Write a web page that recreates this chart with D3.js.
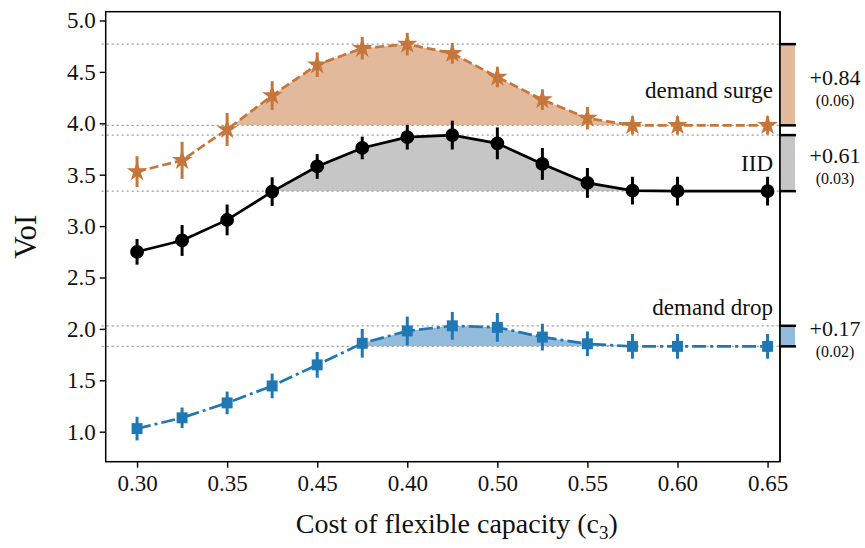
<!DOCTYPE html>
<html>
<head>
<meta charset="utf-8">
<script src="https://cdn.jsdelivr.net/npm/d3@7"></script>
<style>
  body { margin: 0; background: #fff; }
  svg text { font-family: "Liberation Serif", "DejaVu Serif", serif; fill: #111; }
</style>
</head>
<body>
<div id="chart"></div>
<script>
// cost of flexible capacity (x)
const costs = [0.300, 0.325, 0.350, 0.375, 0.400, 0.425, 0.450, 0.475, 0.500, 0.525, 0.550, 0.575, 0.600, 0.650];
const tickValues = [0.30, 0.35, 0.40, 0.45, 0.50, 0.55, 0.60, 0.65];
const tickLabels = ["0.30", "0.35", "0.45", "0.40", "0.50", "0.55", "0.60", "0.65"];

// VoI per scenario, with error bar half-widths
const surge = [3.53, 3.64, 3.94, 4.27, 4.57, 4.73, 4.77, 4.68, 4.45, 4.23, 4.05, 3.98, 3.98, 3.98];
const surgeErr = [0.15, 0.18, 0.16, 0.14, 0.12, 0.11, 0.11, 0.10, 0.10, 0.10, 0.11, 0.09, 0.09, 0.09];
const iid = [2.75, 2.86, 3.06, 3.335, 3.58, 3.76, 3.865, 3.885, 3.805, 3.605, 3.42, 3.345, 3.34, 3.34];
const iidErr = [0.125, 0.15, 0.15, 0.14, 0.12, 0.11, 0.12, 0.14, 0.155, 0.155, 0.145, 0.135, 0.14, 0.14];
const drop = [1.03, 1.135, 1.28, 1.445, 1.65, 1.86, 1.98, 2.03, 2.015, 1.92, 1.855, 1.83, 1.83, 1.83];
const dropErr = [0.115, 0.10, 0.11, 0.12, 0.125, 0.14, 0.14, 0.135, 0.14, 0.13, 0.12, 0.12, 0.12, 0.12];

const names = ["demand surge", "IID", "demand drop"];
const gains = ["+0.84", "+0.61", "+0.17"];
const gainSd = ["(0.06)", "(0.03)", "(0.02)"];

const width = 865, height = 548;
const margin = { top: 11.7, right: 85, bottom: 86.3, left: 105.7 };
const w = width - margin.left - margin.right;
const h = height - margin.top - margin.bottom;

const x = d3.scaleLinear().domain([0.2826, 0.6569]).range([0, w]);
const y = d3.scaleLinear().domain([0.708, 5.0856]).range([h, 0]);

const series = [
  { name: names[0], vals: surge, err: surgeErr, color: "#c6763a", fill: "#e2b99a", dash: "9,4", sym: "star", labelY: 4.25 },
  { name: names[1], vals: iid, err: iidErr, color: "#000000", fill: "#c6c6c6", dash: null, sym: "circle", labelY: 3.54 },
  { name: names[2], vals: drop, err: dropErr, color: "#1f77b4", fill: "#93bcdc", dash: "14,4,3,4", sym: "square", labelY: 2.135 }
];

const svg = d3.select("#chart").append("svg")
  .attr("width", width)
  .attr("height", height);

const defs = svg.append("defs");
const chart = svg.append("g")
  .attr("transform", `translate(${margin.left},${margin.top})`);

// shaded gain areas (clipped above each baseline)
series.forEach((s, i) => {
  const base = s.vals[s.vals.length - 1];
  defs.append("clipPath").attr("id", "clip" + i)
    .append("rect")
    .attr("x", 0).attr("y", 0)
    .attr("width", w).attr("height", y(base));
  const area = d3.area()
    .x((d, j) => x(costs[j]))
    .y0(y(base))
    .y1(d => y(d));
  chart.append("path")
    .datum(s.vals)
    .attr("clip-path", `url(#clip${i})`)
    .attr("fill", s.fill)
    .attr("d", area);
});

// dotted reference lines at max and baseline
series.forEach(s => {
  const levels = [d3.max(s.vals), s.vals[s.vals.length - 1]];
  chart.selectAll(null)
    .data(levels)
    .enter()
    .append("line")
    .attr("x1", -4).attr("x2", w)
    .attr("y1", d => y(d)).attr("y2", d => y(d))
    .attr("stroke", "#9a9a9a")
    .attr("stroke-width", 1.3)
    .attr("stroke-dasharray", "2,3");
});

const line = d3.line().x((d, j) => x(costs[j])).y(d => y(d));

series.forEach(s => {
  chart.append("path")
    .datum(s.vals)
    .attr("fill", "none")
    .attr("stroke", s.color)
    .attr("stroke-width", 2.7)
    .attr("stroke-dasharray", s.dash)
    .attr("d", line);

  chart.selectAll(null)
    .data(s.vals)
    .enter()
    .append("line")
    .attr("x1", (d, j) => x(costs[j]))
    .attr("x2", (d, j) => x(costs[j]))
    .attr("y1", (d, j) => y(d - s.err[j]))
    .attr("y2", (d, j) => y(d + s.err[j]))
    .attr("stroke", s.color)
    .attr("stroke-width", 3);

  const symType = s.sym === "star" ? d3.symbolStar : s.sym === "circle" ? d3.symbolCircle : d3.symbolSquare;
  const size = s.sym === "star" ? 130 : s.sym === "circle" ? 150 : 120;
  chart.selectAll(null)
    .data(s.vals)
    .enter()
    .append("path")
    .attr("transform", (d, j) => `translate(${x(costs[j])},${y(d)})`)
    .attr("d", d3.symbol().type(symType).size(size))
    .attr("fill", s.color);

  chart.append("text")
    .attr("x", w - 7)
    .attr("y", y(s.labelY))
    .attr("text-anchor", "end")
    .attr("font-size", 23)
    .text(s.name);
});

// axes
const xAxis = d3.axisBottom(x)
  .tickValues(tickValues)
  .tickFormat((d, i) => tickLabels[i])
  .tickSize(6).tickPadding(4);
const yAxis = d3.axisLeft(y)
  .tickValues(d3.range(1, 5.01, 0.5))
  .tickFormat(d3.format(".1f"))
  .tickSize(6).tickPadding(4);

const gx = chart.append("g").attr("transform", `translate(0,${h})`).call(xAxis);
const gy = chart.append("g").call(yAxis);
[gx, gy].forEach(g => {
  g.select(".domain").remove();
  g.selectAll(".tick line").attr("stroke", "#000").attr("stroke-width", 1.4);
  g.selectAll(".tick text").attr("font-size", 23).attr("fill", "#111")
    .style("font-family", '"Liberation Serif", serif');
});
gx.selectAll(".tick text").attr("dy", "0.85em");

chart.append("rect")
  .attr("width", w).attr("height", h)
  .attr("fill", "none")
  .attr("stroke", "#000")
  .attr("stroke-width", 1.5);

// gain bars on the right
const bar = chart.append("g").attr("transform", `translate(${w},0)`);
series.forEach((s, i) => {
  const top = d3.max(s.vals), base = s.vals[s.vals.length - 1];
  bar.append("rect")
    .attr("x", 0).attr("width", 15)
    .attr("y", y(top)).attr("height", y(base) - y(top))
    .attr("fill", s.fill);
  bar.selectAll(null)
    .data([top, base])
    .enter()
    .append("line")
    .attr("x1", 0).attr("x2", 16)
    .attr("y1", d => y(d)).attr("y2", d => y(d))
    .attr("stroke", "#000").attr("stroke-width", 2.5);
  const mid = (y(top) + y(base)) / 2;
  bar.append("text")
    .attr("x", 55).attr("y", mid)
    .attr("text-anchor", "middle")
    .attr("font-size", 22)
    .text(gains[i]);
  bar.append("text")
    .attr("x", 55).attr("y", mid + 21)
    .attr("text-anchor", "middle")
    .attr("font-size", 16)
    .text(gainSd[i]);
});
chart.append("line")
  .attr("x1", w).attr("x2", w).attr("y1", 0).attr("y2", h)
  .attr("stroke", "#000").attr("stroke-width", 1.5);

// axis titles
chart.append("text")
  .attr("transform", `translate(${-70},${h / 2}) rotate(-90)`)
  .attr("text-anchor", "middle")
  .attr("font-size", 31)
  .text("VoI");

const xt = chart.append("text")
  .attr("x", w / 2 + 14).attr("y", h + 71)
  .attr("text-anchor", "middle")
  .attr("font-size", 28)
  .text("Cost of flexible capacity (c");
xt.append("tspan").attr("font-size", 19).attr("dy", 6).text("3");
xt.append("tspan").attr("dy", -6).text(")");
</script>
</body>
</html>
